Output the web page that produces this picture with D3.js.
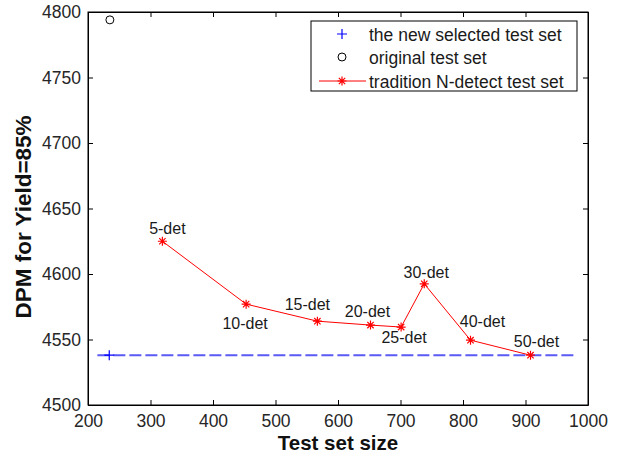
<!DOCTYPE html>
<meta charset="utf-8">
<script src="https://d3js.org/d3.v7.min.js"></script>
<style>
  body { margin: 0; background: #fff; }
  text { font-family: "Liberation Sans", Arial, sans-serif; }
</style>
<body>
<div id="chart"></div>
<script>

// data
var detNames = ["5-det", "10-det", "15-det", "20-det", "25-det", "30-det", "40-det", "50-det"];
var detSize  = [319, 453, 567, 652, 701, 738, 812, 908];
var detDPM   = [4625, 4577, 4564, 4561, 4559.5, 4592.5, 4549.5, 4538];

var newSetSize = [234];
var newSetDPM  = [4538];
var newLineX   = [215, 981];

var origSize = [235];
var origDPM  = [4794];

var xTicks = [200, 300, 400, 500, 600, 700, 800, 900, 1000];
var yTicks = [4500, 4550, 4600, 4650, 4700, 4750, 4800];

var legendLabels = ["the new selected test set", "original test set", "tradition N-detect test set"];

// where each "n-det" label sits relative to its point (px)
var labelOffsets = [[5, -7], [-1, 25], [-10, -11], [-3, -8], [3, 16], [2, -6], [12, -13], [6, -8]];

var W = 623, H = 457;
var margin = {top: 12, right: 35, bottom: 52, left: 88},
    width = 588 - margin.left,
    height = 405 - margin.top;

var svg = d3.select("#chart")
  .append("svg")
    .attr("width", W)
    .attr("height", H)
  .append("g")
    .attr("transform", "translate(" + margin.left + "," + margin.top + ")");

var x = d3.scaleLinear().domain([200, 1000]).range([0, width]);
var y = d3.scaleLinear().domain([4500, 4800]).range([height, 0]);

// axes (inward ticks, MATLAB box)
var tickLen = 5;
var fmt = d3.format("d");
svg.append("g")
  .attr("transform", "translate(0," + height + ")")
  .call(d3.axisBottom(x).tickValues(xTicks).tickFormat(fmt).tickSizeInner(-tickLen).tickSizeOuter(0).tickPadding(10));
svg.append("g")
  .call(d3.axisLeft(y).tickValues(yTicks).tickFormat(fmt).tickSizeInner(-tickLen).tickSizeOuter(0).tickPadding(7));
svg.append("g")
  .call(d3.axisTop(x).tickValues(xTicks).tickSizeInner(-tickLen).tickSizeOuter(0).tickFormat(""));
svg.append("g")
  .attr("transform", "translate(" + width + ",0)")
  .call(d3.axisRight(y).tickValues(yTicks).tickSizeInner(-tickLen).tickSizeOuter(0).tickFormat(""));

svg.selectAll(".domain").attr("stroke", "#000");
svg.selectAll(".tick line").attr("stroke", "#000");
svg.selectAll(".tick text")
  .style("font-size", "17.5px")
  .style("font-family", "'Liberation Sans', Arial, sans-serif")
  .attr("fill", "#262626");

svg.append("rect")
  .attr("width", width).attr("height", height)
  .attr("fill", "none").attr("stroke", "#000").attr("stroke-width", 1);

// axis titles
svg.append("text")
  .attr("x", width / 2)
  .attr("y", 450 - margin.top)
  .attr("text-anchor", "middle")
  .style("font-size", "20.5px")
  .style("font-weight", "bold")
  .attr("fill", "#111")
  .text("Test set size");

svg.append("text")
  .attr("transform", "translate(" + (31 - margin.left) + "," + (217 - margin.top) + ") rotate(-90)")
  .attr("text-anchor", "middle")
  .style("font-size", "22.5px")
  .style("font-weight", "bold")
  .attr("fill", "#111")
  .text("DPM for Yield=85%");

// asterisk marker path
function star(r) {
  var d = r * Math.SQRT1_2;
  return "M" + (-r) + ",0L" + r + ",0M0," + (-r) + "L0," + r +
         "M" + (-d) + "," + (-d) + "L" + d + "," + d +
         "M" + (-d) + "," + d + "L" + d + "," + (-d);
}

// blue dashed line for the new selected set
svg.append("line")
  .attr("x1", x(newLineX[0])).attr("x2", x(newLineX[1]))
  .attr("y1", y(newSetDPM[0])).attr("y2", y(newSetDPM[0]))
  .attr("stroke", "#5a5af5")
  .attr("stroke-width", 2)
  .attr("stroke-dasharray", "12,4");

svg.selectAll(".plusmark")
  .data(newSetSize)
  .enter().append("path")
    .attr("transform", function(d, i) { return "translate(" + x(d) + "," + y(newSetDPM[i]) + ")"; })
    .attr("d", "M-5,0L5,0M0,-5L0,5")
    .attr("stroke", "#0000ff").attr("stroke-width", 1.2).attr("fill", "none");

// original test set circle
svg.selectAll(".origmark")
  .data(origSize)
  .enter().append("circle")
    .attr("cx", function(d) { return x(d); })
    .attr("cy", function(d, i) { return y(origDPM[i]); })
    .attr("r", 4)
    .attr("fill", "none").attr("stroke", "#000").attr("stroke-width", 1);

// tradition N-detect line
var pts = detSize.map(function(d, i) { return [d, detDPM[i]]; });
svg.append("path")
  .datum(pts)
  .attr("d", d3.line().x(function(d) { return x(d[0]); }).y(function(d) { return y(d[1]); }))
  .attr("fill", "none").attr("stroke", "#ff0000").attr("stroke-width", 1);

svg.selectAll(".detmark")
  .data(pts)
  .enter().append("path")
    .attr("transform", function(d) { return "translate(" + x(d[0]) + "," + y(d[1]) + ")"; })
    .attr("d", star(4.5))
    .attr("stroke", "#ff0000").attr("stroke-width", 1.2).attr("fill", "none");

svg.selectAll(".detlabel")
  .data(pts)
  .enter().append("text")
    .attr("x", function(d, i) { return x(d[0]) + labelOffsets[i][0]; })
    .attr("y", function(d, i) { return y(d[1]) + labelOffsets[i][1]; })
    .attr("text-anchor", "middle")
    .style("font-size", "16px")
    .attr("fill", "#1a1a1a")
    .text(function(d, i) { return detNames[i]; });

// legend
var lg = svg.append("g")
  .attr("transform", "translate(" + (311 - margin.left) + "," + (21 - margin.top) + ")");
lg.append("rect")
  .attr("width", 266).attr("height", 70)
  .attr("fill", "#fff").attr("stroke", "#000").attr("stroke-width", 1);

var rowY = [13, 36, 60];
lg.append("path")
  .attr("transform", "translate(31," + rowY[0] + ")")
  .attr("d", "M-5,0L5,0M0,-5L0,5")
  .attr("stroke", "#0000ff").attr("stroke-width", 1.2);
lg.append("circle")
  .attr("cx", 31).attr("cy", rowY[1]).attr("r", 4)
  .attr("fill", "none").attr("stroke", "#000");
lg.append("line")
  .attr("x1", 8).attr("x2", 55).attr("y1", rowY[2]).attr("y2", rowY[2])
  .attr("stroke", "#ff0000").attr("stroke-width", 1);
lg.append("path")
  .attr("transform", "translate(31," + rowY[2] + ")")
  .attr("d", star(4.5))
  .attr("stroke", "#ff0000").attr("stroke-width", 1.2);

lg.selectAll(".lgtext")
  .data(legendLabels)
  .enter().append("text")
    .attr("x", 58)
    .attr("y", function(d, i) { return rowY[i] + 7; })
    .style("font-size", "17.5px")
    .attr("fill", "#1a1a1a")
    .text(function(d) { return d; });

</script>
</body>
